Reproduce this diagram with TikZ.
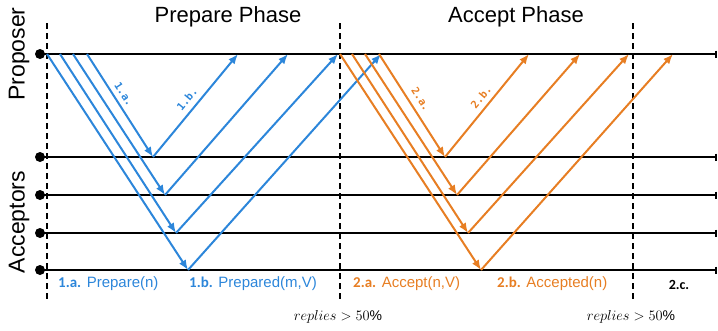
\documentclass[tikz,border=0pt]{standalone}
\usepackage{fontspec}
\setmainfont{Liberation Sans}
\newfontfamily\lblfont{DejaVu Sans Mono}
\newfontfamily\stepfont{Carlito}
\usetikzlibrary{arrows.meta}
\definecolor{pblue}{RGB}{44,134,218}
\definecolor{porange}{RGB}{231,126,35}
\tikzset{
  timeline/.style={line width=2.2pt,-{Bar[width=7pt,line width=1.6pt]}},
  lifedot/.style={circle,fill=black,inner sep=0pt,minimum size=10pt},
  phaseline/.style={line width=1.2pt,dash pattern=on 6pt off 4pt},
  msgblue/.style={pblue,line width=2pt,-{Latex[length=10pt,width=8pt]}},
  msgorange/.style={porange,line width=2pt,-{Latex[length=10pt,width=8pt]}},
  phasetitle/.style={font=\fontsize{22}{24}\selectfont},
  roletitle/.style={font=\fontsize{23}{25}\selectfont,rotate=90},
  steplabel/.style={font=\lblfont\bfseries\fontsize{10.5}{11}\selectfont,inner sep=1pt},
  legend/.style={font=\fontsize{15}{17}\selectfont,anchor=west,inner sep=0pt},
  thresh/.style={font=\fontsize{14}{16}\selectfont},
}
\begin{document}
\begin{tikzpicture}[x=1pt,y=-1pt]
\useasboundingbox (0,0) rectangle (718,330);

% lifelines: proposer and four acceptors
\foreach \n/\y in {P/54,A1/157,A2/195,A3/233,A4/270}{
  \node[lifedot] (d\n) at (40,\y) {};
  \coordinate (e\n) at (717,\y);
  \draw[timeline] (d\n.center) -- (e\n);
}

% phase boundaries
\foreach \n/\x in {1/47,2/340,3/633}{
  \coordinate (t\n) at (\x,23);
  \coordinate (b\n) at (\x,300);
  \draw[phaseline] (t\n) -- (b\n);
}

% prepare phase: requests
\coordinate (pa1) at (87,54);  \coordinate (qa1) at (153,157);
\coordinate (pa2) at (73,54);  \coordinate (qa2) at (165,195);
\coordinate (pa3) at (60,54);  \coordinate (qa3) at (176,233);
\coordinate (pa4) at (47,54);  \coordinate (qa4) at (188,270);
% prepare phase: replies
\coordinate (ra1) at (238,54);
\coordinate (ra2) at (288,54);
\coordinate (ra3) at (338,54);
\coordinate (ra4) at (381,54);
\foreach \i in {1,...,4}{
  \draw[msgblue] (pa\i) -- (qa\i);
  \draw[msgblue] (qa\i) -- (ra\i);
}

% accept phase: requests
\coordinate (pb1) at (379,54); \coordinate (qb1) at (445,157);
\coordinate (pb2) at (365,54); \coordinate (qb2) at (457,195);
\coordinate (pb3) at (352,54); \coordinate (qb3) at (468,233);
\coordinate (pb4) at (340,54); \coordinate (qb4) at (481,270);
% accept phase: replies
\coordinate (rb1) at (529,54);
\coordinate (rb2) at (580,54);
\coordinate (rb3) at (629,54);
\coordinate (rb4) at (673,54);
\foreach \i in {1,...,4}{
  \draw[msgorange] (pb\i) -- (qb\i);
  \draw[msgorange] (qb\i) -- (rb\i);
}

% step labels along the arrows
\node[steplabel,pblue,rotate=-57] (la) at (124,94) {1.a.};
\node[steplabel,pblue,rotate=50] (lb) at (187,99) {1.b.};
\node[steplabel,porange,rotate=-57] (lc) at (421,99) {2.a.};
\node[steplabel,porange,rotate=50] (ld) at (481,97) {2.b.};

% titles
\node[phasetitle] (tprep) at (228,17) {Prepare Phase};
\node[phasetitle] (tacc) at (516,17) {Accept Phase};
\node[roletitle] (tprop) at (19,54) {Proposer};
\node[roletitle] (tacpt) at (19,222) {Acceptors};

% legend
\node[legend,pblue] (g1) at (58,284) {{\stepfont\bfseries 1.a.} Prepare(n)};
\node[legend,pblue] (g2) at (189,284) {{\stepfont\bfseries 1.b.} Prepared(m,V)};
\node[legend,porange] (g3) at (353,284) {{\stepfont\bfseries 2.a.} Accept(n,V)};
\node[legend,porange] (g4) at (497,284) {{\stepfont\bfseries 2.b.} Accepted(n)};
\node[font=\stepfont\bfseries\fontsize{14}{15}\selectfont] (g5) at (679,285) {2.c.};

% quorum thresholds
\node[thresh] (q1) at (338,317) {$replies > 50\%$};
\node[thresh] (q2) at (631,317) {$replies > 50\%$};
\end{tikzpicture}
\end{document}
